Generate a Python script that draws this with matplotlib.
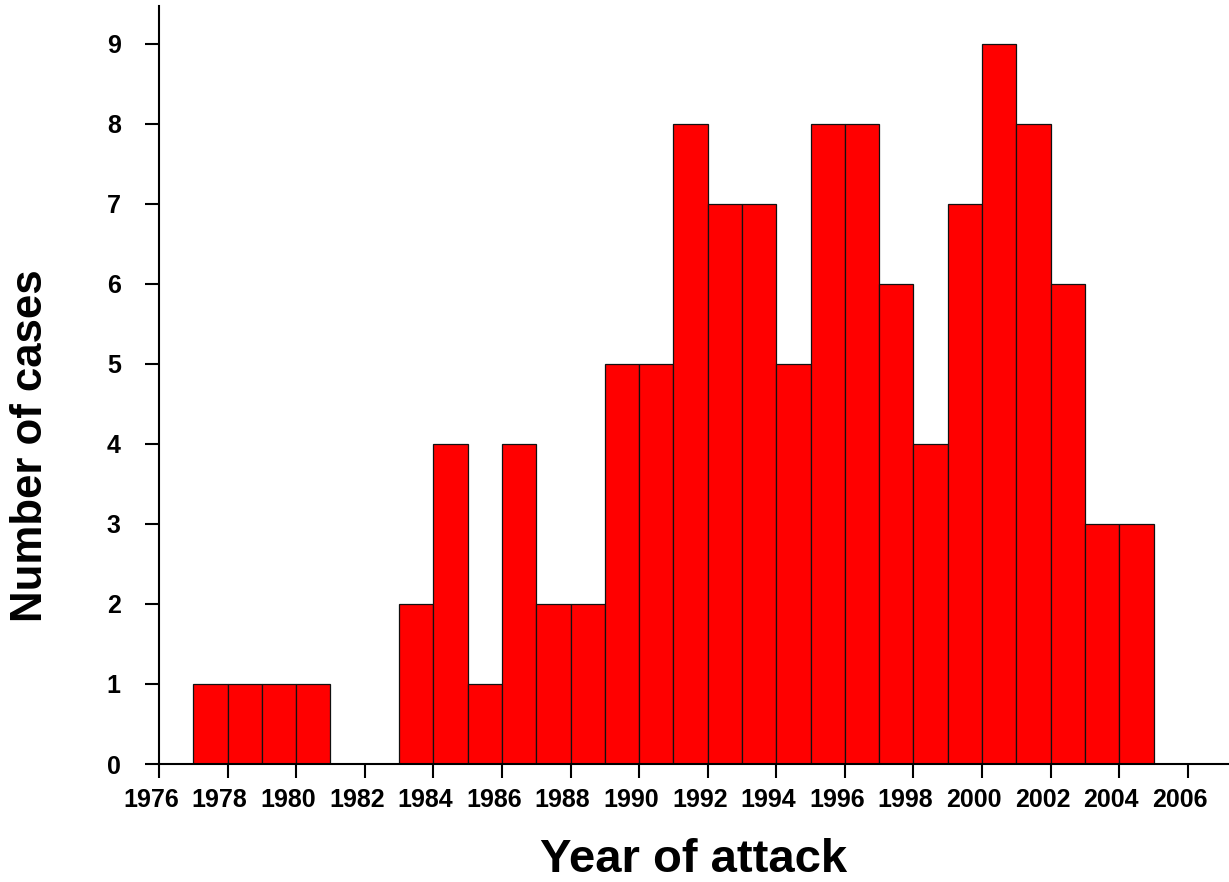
import matplotlib
matplotlib.use("Agg")
import matplotlib.pyplot as plt
from matplotlib.transforms import ScaledTranslation

# Attacks per year (bin starts at the given year, one-year bins)
years = [1977, 1978, 1979, 1980, 1981, 1982, 1983, 1984, 1985, 1986, 1987,
         1988, 1989, 1990, 1991, 1992, 1993, 1994, 1995, 1996, 1997, 1998,
         1999, 2000, 2001, 2002, 2003, 2004]
cases = [1, 1, 1, 1, 0, 0, 2, 4, 1, 4, 2,
         2, 5, 5, 8, 7, 7, 5, 8, 8, 6, 4,
         7, 9, 8, 6, 3, 3]
x_ticks = list(range(1976, 2007, 2))
y_ticks = list(range(0, 10))

plt.rcParams["font.family"] = ["Liberation Sans", "DejaVu Sans"]
plt.rcParams["font.weight"] = "bold"

W, H = 1229, 882
fig = plt.figure(figsize=(W / 100, H / 100), dpi=100)
ax = fig.add_axes([159 / W, 1 - 764 / H, 1 - 159 / W, (764 - 6) / H])

ax.bar(years, cases, width=1.0, align="edge", color="#ff0000",
       edgecolor="#111111", linewidth=0.9)

ax.set_xlim(1976, 2007.2)
ax.set_ylim(0, 9.47)
ax.set_xticks(x_ticks)
ax.set_yticks(y_ticks)
ax.tick_params(axis="both", direction="out", length=10, width=1.5,
               labelsize=18)
ax.tick_params(axis="x", pad=7)
ax.tick_params(axis="y", pad=17.5)

# year labels sit slightly left of their ticks
shift = ScaledTranslation(-8 / 100, 0, fig.dpi_scale_trans)
for lbl in ax.get_xticklabels():
    lbl.set_fontweight("bold")
    lbl.set_transform(lbl.get_transform() + shift)
for lbl in ax.get_yticklabels():
    lbl.set_fontweight("bold")

for side in ("top", "right"):
    ax.spines[side].set_visible(False)
for side in ("left", "bottom"):
    ax.spines[side].set_linewidth(1.5)

ax.set_xlabel("Year of attack", fontsize=34, fontweight="bold", labelpad=19)
fig.text(31 / W, 1 - 446 / H, "Number of cases", rotation=90,
         fontsize=31.5, fontweight="bold", ha="center", va="center")

fig.savefig("out.png", dpi=100)
